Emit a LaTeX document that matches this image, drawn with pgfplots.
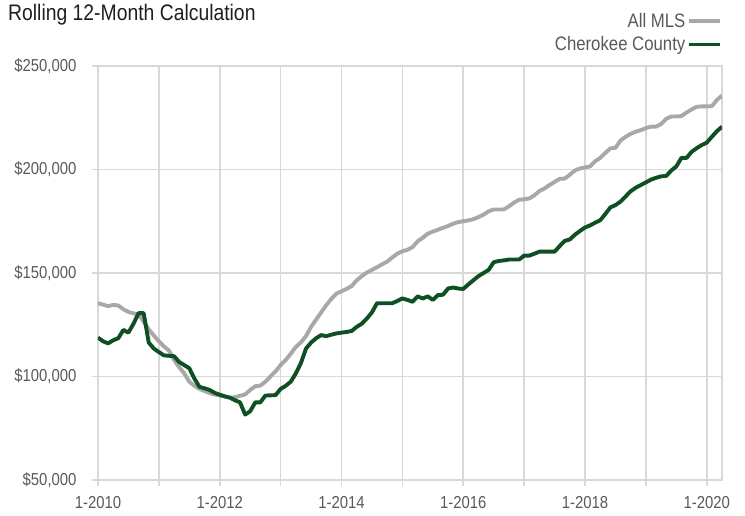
\documentclass[border=0pt]{standalone}
\usepackage{pgfplots}
\pgfplotsset{compat=1.18}
\usepackage{pgfplotstable}
\usepackage{fontspec}
\setmainfont{Liberation Sans}[FakeStretch=0.86]
\definecolor{mlsgray}{HTML}{A8A8A8}
\definecolor{ccgreen}{HTML}{0E4F23}
\definecolor{gridc}{HTML}{D9D9D9}
\definecolor{labc}{HTML}{595959}

\pgfplotstableread{
m mls cc
0 135.4 118.8
1 134.7 117.0
2 134.0 116.0
3 134.6 117.5
4 134.3 118.5
5 132.5 122.5
6 131.2 121.2
7 130.5 125.5
8 130.0 130.6
9 126.5 130.6
10 122.8 116.4
11 119.8 113.5
12 117.0 111.8
13 114.5 110.2
14 112.5 110.0
15 108.0 109.8
16 104.5 107.0
17 101.5 105.5
18 97.5 104.0
19 95.5 99.0
20 94.0 95.0
21 93.0 94.3
22 92.0 93.5
23 91.3 92.1
24 90.8 91.2
25 90.3 90.4
26 89.7 89.8
27 90.0 88.5
28 90.7 87.5
29 91.3 81.6
30 93.5 83.2
31 95.3 87.5
32 95.6 87.5
33 97.5 90.8
34 100.0 90.9
35 102.5 91.0
36 105.5 94.0
37 108.0 95.5
38 111.0 97.5
39 114.3 101.5
40 116.5 106.5
41 119.5 113.5
42 124.0 116.4
43 127.5 118.5
44 131.0 120.0
45 134.5 119.5
46 137.5 120.2
47 140.0 120.8
48 141.2 121.2
49 142.3 121.5
50 143.7 122.0
51 146.5 124.0
52 148.5 125.5
53 150.2 128.0
54 151.5 131.0
55 152.8 135.4
56 154.2 135.4
57 155.5 135.4
58 157.5 135.4
59 159.3 136.5
60 160.5 137.7
61 161.2 137.0
62 162.5 136.1
63 165.3 138.7
64 167.0 137.7
65 169.0 138.7
66 170.0 137.0
67 170.9 139.3
68 171.8 139.5
69 172.7 142.5
70 173.8 143.0
71 174.6 142.5
72 175.0 142.3
73 175.4 144.5
74 176.0 146.5
75 177.0 148.5
76 178.2 150.0
77 179.8 151.5
78 180.7 155.2
79 180.7 155.8
80 180.7 156.1
81 182.2 156.5
82 184.0 156.5
83 185.4 156.5
84 185.6 158.4
85 186.0 158.4
86 187.5 159.3
87 189.6 160.3
88 190.8 160.3
89 192.5 160.3
90 194.0 160.3
91 195.5 163.0
92 195.6 165.5
93 197.5 166.2
94 199.5 168.5
95 200.5 170.3
96 201.0 172.0
97 201.5 173.0
98 204.0 174.3
99 205.6 175.5
100 208.0 178.5
101 210.2 181.7
102 210.5 182.8
103 214.0 184.5
104 215.8 187.0
105 217.2 189.5
106 218.3 191.2
107 219.0 192.5
108 220.0 193.8
109 220.7 195.1
110 220.7 196.0
111 222.0 196.7
112 224.5 196.9
113 225.6 199.5
114 225.6 201.5
115 225.8 205.6
116 227.5 205.6
117 229.0 208.5
118 230.3 210.3
119 230.5 211.8
120 230.5 213.0
121 230.6 215.8
122 233.6 218.5
123 235.7 220.7
}\datatable

\begin{document}
\begin{tikzpicture}[x=1pt,y=1pt]
\useasboundingbox (0,0) rectangle (745,515);
\node[anchor=base west, font=\fontsize{22.5}{26}\selectfont, text=black!88, inner sep=0pt] at (8,494) {Rolling 12-Month Calculation};
\begin{axis}[
  at={(98pt,35pt)}, anchor=south west,
  width=624pt, height=414pt, scale only axis,
  xmin=0, xmax=123, ymin=50, ymax=250,
  xtick={0,12,...,120},
  xticklabels={1-2010,,1-2012,,1-2014,,1-2016,,1-2018,,1-2020},
  ytick={50,100,150,200,250},
  yticklabels={{\$50,000},{\$100,000},{\$150,000},{\$200,000},{\$250,000}},
  grid=major,
  grid style={gridc, line width=1.6pt},
  axis line style={gridc, line width=1.6pt},
  tick style={gridc, line width=1.6pt},
  major tick length=6pt,
  tick align=outside,
  xtick pos=bottom, ytick pos=left,
  ticklabel style={font=\fontsize{17.3}{20}\selectfont, text=labc},
  /pgf/number format/assume math mode=true,
  xticklabel style={yshift=-7pt},
  yticklabel style={xshift=-12pt},
  legend cell align=right,
  legend plot pos=right,
  legend image code/.code={\draw[#1] (0pt,0pt) -- (31pt,0pt);},
  legend style={draw=none, fill=none, at={(1,1)}, anchor=south east,
    font=\fontsize{19.5}{22}\selectfont, text=labc,
    inner sep=0pt, row sep=4.5pt, yshift=12pt,
    nodes={inner sep=1.5pt}},
]
\addplot[mlsgray, line width=3.9pt, line join=round] table[x=m, y=mls] {\datatable};
\addlegendentry{All MLS}
\addplot[ccgreen, line width=3.9pt, line join=round] table[x=m, y=cc] {\datatable};
\addlegendentry{Cherokee County}
\end{axis}
\end{tikzpicture}
\end{document}
